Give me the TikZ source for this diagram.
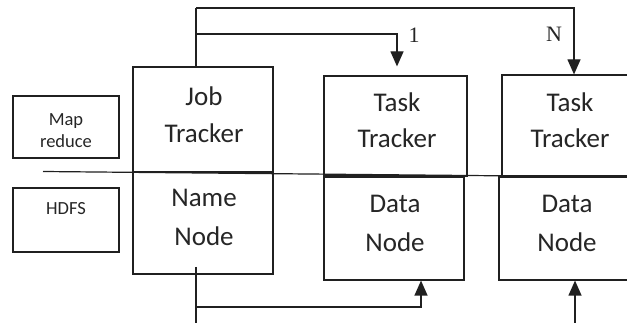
\documentclass[tikz,border=0pt]{standalone}
\usepackage{fontspec}
\setmainfont{Carlito}
\newfontfamily\serifnum{Liberation Serif}
\usetikzlibrary{arrows.meta}
\definecolor{ln}{HTML}{202020}
\definecolor{tx}{HTML}{262626}
\tikzset{
  box/.style={draw=ln, line width=1.2pt, minimum width=#1, inner sep=0pt},
  big/.style={font=\fontsize{27}{32}\selectfont, text=tx, anchor=base, inner sep=0pt},
  small/.style={font=\fontsize{18.5}{22}\selectfont, text=tx, anchor=base, inner sep=0pt},
  num/.style={font=\serifnum\fontsize{22}{26}\selectfont, text=tx, anchor=base, inner sep=0pt},
  wire/.style={draw=ln, line width=1.2pt},
  arr/.style={wire, -{Triangle[width=13pt,length=15pt]}},
}
\begin{document}
\begin{tikzpicture}[x=1pt,y=-1pt]
\clip (0,0) rectangle (627,323);
\fill[white] (0,0) rectangle (627,323);
% boxes
\node[box=106pt, minimum height=62pt] (mr) at (66,127) {};
\node[box=106pt, minimum height=64pt] (hdfs) at (66,220) {};
\node[box=140pt, minimum height=105pt] (jt) at (203,119.5) {};
\node[box=140pt, minimum height=102pt] (nn) at (203,223) {};
\node[box=143pt, minimum height=100pt] (tt1) at (395.5,126) {};
\node[box=140pt, minimum height=103pt] (dn1) at (394,228.5) {};
\node[box=140pt, minimum height=101pt] (ttn) at (572,125.5) {};
\node[box=143pt, minimum height=103pt] (dnn) at (570.5,228.5) {};
% divider
\coordinate (dl) at (43,171.5);
\coordinate (dr) at (627,177);
\draw[wire] (dl) -- (dr);
% texts
\node[small] (mr1) at (66,126) {Map};
\node[small] (mr2) at (66,148) {reduce};
\node[small] (hd1) at (66,215) {HDFS};
\node[big] (jt1) at (204,106) {Job};
\node[big] (jt2) at (204,143) {Tracker};
\node[big] (nn1) at (204,207) {Name};
\node[big] (nn2) at (204,246) {Node};
\node[big] (tt1a) at (397,112) {Task};
\node[big] (tt1b) at (397,148) {Tracker};
\node[big] (dn1a) at (395,213) {Data};
\node[big] (dn1b) at (395,252) {Node};
\node[big] (ttna) at (570,112) {Task};
\node[big] (ttnb) at (570,148) {Tracker};
\node[big] (dnna) at (567,213) {Data};
\node[big] (dnnb) at (567,252) {Node};
\node[num] (l1) at (414,43) {1};
\node[num] (lN) at (554,42) {N};
% top connectors
\coordinate (tj) at (196,67);
\coordinate (t1) at (196,8);
\coordinate (t2) at (196,34);
\draw[wire] (tj) -- (t1);
\draw[arr] (t1) -- (574,8) -- (ttn.north -| 574,0);
\draw[arr, shorten >=9pt] (t2) -- (397,34) -- (tt1.north -| 397,0);
% bottom connectors
\coordinate (bj) at (196,267);
\coordinate (bb) at (196,323);
\coordinate (b2) at (196,307);
\draw[wire] (bj) -- (bb);
\draw[arr] (b2) -- (421,307) -- (dn1.south -| 421,0);
\coordinate (bn) at (575,323);
\draw[arr] (bn) -- (dnn.south -| bn);
\end{tikzpicture}
\end{document}
